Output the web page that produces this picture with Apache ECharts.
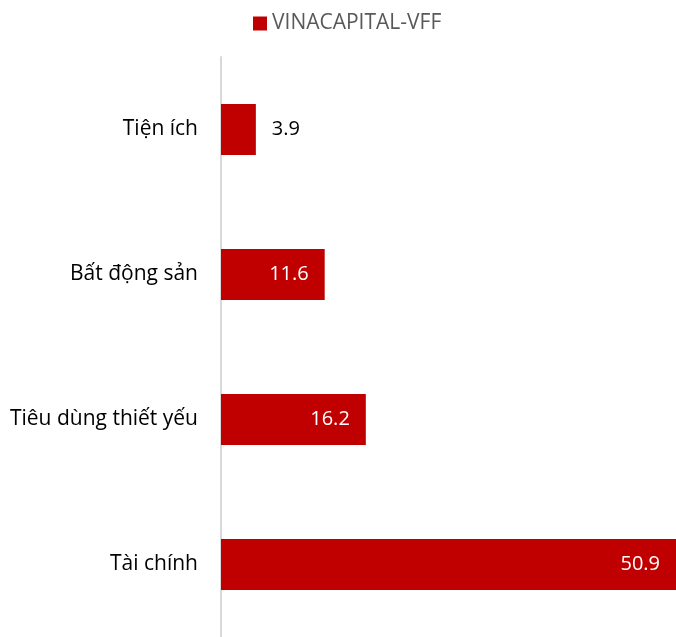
<!DOCTYPE html>
<html><head><meta charset="utf-8">
<script src="https://cdn.jsdelivr.net/npm/echarts@6/dist/echarts.min.js"></script>
<style>html,body{margin:0;padding:0;background:#fff}#c{width:676px;height:637px}</style>
</head><body><div id="c"></div>
<script>
var categories = ['Tiện ích', 'Bất động sản', 'Tiêu dùng thiết yếu', 'Tài chính'];
var values = [3.9, 11.6, 16.2, 50.9];
var seriesName = 'VINACAPITAL-VFF';
var FONT = '"Open Sans", sans-serif';
var chart = echarts.init(document.getElementById('c'), null, {renderer: 'canvas'});
var data = values.map(function (v) {
  if (v < 8) return {value: v, label: {position: 'right', color: '#000', distance: 16}};
  return v;
});
chart.setOption({
  animation: false,
  textStyle: {fontFamily: FONT},
  legend: {
    data: [seriesName], top: 8, left: 248,
    itemWidth: 14, itemHeight: 14, icon: 'rect', itemGap: 5,
    textStyle: {color: '#595959', fontSize: 21, fontFamily: FONT}
  },
  grid: {left: 221, right: 0, top: 57, bottom: 0, containLabel: false},
  xAxis: {type: 'value', min: 0, max: 50.9, show: false},
  yAxis: {
    type: 'category', data: categories, inverse: true,
    axisLine: {show: true, lineStyle: {color: '#D9D9D9', width: 2}},
    axisTick: {show: false},
    axisLabel: {color: '#000', fontSize: 21, margin: 23, fontFamily: FONT},
    splitLine: {show: false}
  },
  series: [{
    name: seriesName, type: 'bar', data: data, barWidth: 51,
    itemStyle: {color: '#C00000'},
    label: {
      show: true, fontSize: 20, fontFamily: FONT,
      formatter: function (p) { return p.value.toFixed(1); },
      position: 'insideRight', distance: 16, color: '#fff'
    }
  }]
});
</script></body></html>
